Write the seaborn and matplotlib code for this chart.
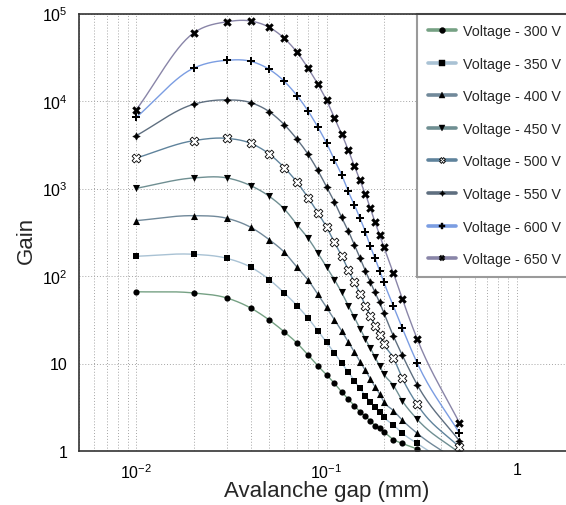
import numpy as np
import pandas as pd
import matplotlib
matplotlib.use("Agg")
import matplotlib.pyplot as plt
import seaborn as sns
from matplotlib.lines import Line2D
from matplotlib.ticker import FixedLocator, FixedFormatter, NullFormatter

# ---------------- data ----------------
gap_mm = [0.01, 0.02, 0.03, 0.04, 0.05, 0.06, 0.07, 0.08, 0.09, 0.10,
          0.11, 0.12, 0.13, 0.14, 0.15, 0.16, 0.17, 0.18, 0.19, 0.20,
          0.225, 0.25, 0.30, 0.50]

gain_300 = [66, 64, 56, 43, 31.4, 23, 17.1, 12.5, 9.4, 7.45,
            5.93, 4.76, 3.93, 3.3, 2.81, 2.49, 2.22, 1.95, 1.82, 1.66,
            1.35, 1.22, 1.05, 0.5]
gain_350 = [168, 177, 159, 126, 91, 64, 45.8, 33, 23.7, 17.5,
            13.2, 10.1, 8.05, 6.36, 5.2, 4.29, 3.66, 3.16, 2.77, 2.43,
            1.98, 1.6, 1.22, 0.6]
gain_400 = [429, 489, 456, 360, 260, 187, 126, 90, 62, 43.8,
            31.7, 23.7, 17.7, 13.6, 10.5, 8.4, 6.65, 5.4, 4.5, 3.66,
            2.89, 2.26, 1.59, 0.75]
gain_450 = [1005, 1320, 1320, 1077, 815, 583, 386, 270, 183, 127,
            91, 65, 46, 33.7, 25, 19, 15, 11.8, 9.4, 7.6,
            5.6, 3.76, 2.3, 0.95]
gain_500 = [2230, 3520, 3740, 3280, 2480, 1730, 1180, 785, 530, 363,
            243, 171, 118, 85, 63, 45.8, 35, 27, 21, 16.7,
            11.5, 6.8, 3.4, 1.1]
gain_550 = [4020, 9170, 10300, 9570, 7550, 5360, 3650, 2460, 1610, 1050,
            707, 469, 330, 228, 161, 115, 85, 65, 50, 38,
            20.5, 12.5, 5.7, 1.3]
gain_600 = [6500, 23700, 29200, 28400, 23000, 16800, 11500, 7690, 5040, 3310,
            2130, 1440, 930, 653, 456, 321, 218, 159, 115, 85,
            45, 25.5, 10.1, 1.6]
gain_650 = [7940, 59800, 80500, 82000, 69500, 52000, 36000, 23700, 15600, 10200,
            6450, 4230, 2770, 1820, 1240, 870, 594, 411, 297, 216,
            107, 55, 19, 2.09]

voltages = [300, 350, 400, 450, 500, 550, 600, 650]
series_labels = [f"Voltage - {v} V" for v in voltages]
x_tick_values = [0.01, 0.1, 1]
x_tick_labels = [r"$\mathregular{10^{-2}}$", r"$\mathregular{10^{-1}}$", "1"]
y_tick_values = [1, 10, 100, 1000, 10000, 100000]
y_tick_labels = ["1", "10", r"$\mathregular{10^{2}}$", r"$\mathregular{10^{3}}$",
                 r"$\mathregular{10^{4}}$", r"$\mathregular{10^{5}}$"]
x_label = "Avalanche gap (mm)"
y_label = "Gain"

gains = [gain_300, gain_350, gain_400, gain_450, gain_500, gain_550, gain_600, gain_650]
line_colors = ["#76a184", "#a9c2d4", "#71899a", "#6f8f92", "#5f839c",
               "#5f6f80", "#7b9de2", "#8985a8"]
# marker, size (points^2), face, edge, edge width
marker_styles = [("o", 20, "black", "black", 0.0),
                 ("s", 18, "black", "black", 0.0),
                 ("^", 26, "black", "black", 0.0),
                 ("v", 26, "black", "black", 0.0),
                 ("X", 40, "white", "black", 0.6),
                 ((4, 1, 0), 30, "black", "black", 0.3),
                 ("P", 34, "black", "black", 0.0),
                 ("X", 38, "black", "black", 0.0)]

# ---------------- smooth curve (cubic Hermite in log-log space) ----------------
def smooth_curve(x, y, n=30):
    lx = np.log10(np.asarray(x, float))
    ly = np.log10(np.asarray(y, float))
    m = np.gradient(ly, lx)
    xs, ys = [], []
    for i in range(len(lx) - 1):
        h = lx[i + 1] - lx[i]
        t = np.linspace(0, 1, n, endpoint=False)
        h00 = 2 * t**3 - 3 * t**2 + 1
        h10 = t**3 - 2 * t**2 + t
        h01 = -2 * t**3 + 3 * t**2
        h11 = t**3 - t**2
        xs.append(lx[i] + t * h)
        ys.append(h00 * ly[i] + h10 * h * m[i] + h01 * ly[i + 1] + h11 * h * m[i + 1])
    xs.append([lx[-1]])
    ys.append([ly[-1]])
    return 10 ** np.concatenate(xs), 10 ** np.concatenate(ys)

frames = []
for lab, g in zip(series_labels, gains):
    sx, sy = smooth_curve(gap_mm, g)
    frames.append(pd.DataFrame({"gap": sx, "gain": sy, "series": lab}))
dense = pd.concat(frames, ignore_index=True)

# ---------------- figure ----------------
sns.set_theme(style="white")
plt.rcParams["font.family"] = ["Liberation Sans", "DejaVu Sans"]
plt.rcParams["mathtext.fontset"] = "custom"
plt.rcParams["mathtext.rm"] = "Liberation Sans"
plt.rcParams["mathtext.it"] = "Liberation Sans:italic"
plt.rcParams["mathtext.bf"] = "Liberation Sans:bold"

fig = plt.figure(figsize=(5.66, 5.06), dpi=100)
ax = fig.add_axes([79 / 566, 54 / 506, 495 / 566, 437.5 / 506])
ax.set_facecolor("white")

sns.lineplot(data=dense, x="gap", y="gain", hue="series",
             palette=dict(zip(series_labels, line_colors)),
             estimator=None, sort=False, legend=False, linewidth=1.0, ax=ax, zorder=2)

for lab, g, (mk, s, fc, ec, lw) in zip(series_labels, gains, marker_styles):
    sns.scatterplot(x=gap_mm, y=g, marker=mk, s=s, color=fc, edgecolor=ec,
                    linewidth=lw, ax=ax, zorder=3, legend=False)

ax.set_xscale("log")
ax.set_yscale("log")
ax.set_xlim(0.005, 2.0)
ax.set_ylim(1, 1e5)

# ticks
ax.xaxis.set_major_locator(FixedLocator(x_tick_values))
ax.xaxis.set_major_formatter(FixedFormatter(x_tick_labels))
xminor = [m * 10.0**e for e in (-3, -2, -1, 0) for m in range(2, 10)]
ax.xaxis.set_minor_locator(FixedLocator(xminor))
ax.xaxis.set_minor_formatter(NullFormatter())
ax.yaxis.set_major_locator(FixedLocator(y_tick_values))
ax.yaxis.set_major_formatter(FixedFormatter(y_tick_labels))
yminor = [m * 10.0**e for e in range(0, 5) for m in range(2, 10)]
ax.yaxis.set_minor_locator(FixedLocator(yminor))
ax.yaxis.set_minor_formatter(NullFormatter())

ax.tick_params(which="both", direction="in", color="#333333", width=0.9,
               labelsize=11.5, labelcolor="black")
ax.tick_params(which="major", length=11)
ax.tick_params(which="minor", length=8)
ax.tick_params(axis="x", which="major", pad=8)
ax.tick_params(axis="y", which="major", pad=8)

ax.grid(which="major", axis="both", linestyle=(0, (1, 2)), color="#a5a5a5", linewidth=0.7)
ax.grid(which="minor", axis="x", linestyle=(0, (1, 2)), color="#a5a5a5", linewidth=0.7)
ax.set_axisbelow(True)

for sp in ax.spines.values():
    sp.set_color("#333333")
    sp.set_linewidth(1.2)
    sp.set_zorder(6)

ax.set_xlabel(x_label, fontsize=16)
ax.set_ylabel(y_label, fontsize=16)
ax.xaxis.set_label_coords(0.501, -0.067)
ax.yaxis.set_label_coords(-0.085, 0.484)

# legend
handles = []
for col, (mk, s, fc, ec, lw) in zip(line_colors, marker_styles):
    handles.append(Line2D([0], [0], color=col, linewidth=2.6, marker=mk,
                          markersize=4.2, markerfacecolor=fc,
                          markeredgecolor=ec, markeredgewidth=max(lw, 0.3)))
leg = ax.legend(handles, series_labels, loc="upper left",
                bbox_to_anchor=(0.683, 0.402, 0.33, 0.598), mode="expand",
                borderaxespad=0, fontsize=10.3, handlelength=1.96,
                handletextpad=0.5, labelspacing=1.30, borderpad=0.74,
                frameon=True, fancybox=False, framealpha=1.0,
                edgecolor="#9a9a9a")
leg.get_frame().set_linewidth(1.5)
leg.set_zorder(5)

fig.savefig("out.png", dpi=100)
